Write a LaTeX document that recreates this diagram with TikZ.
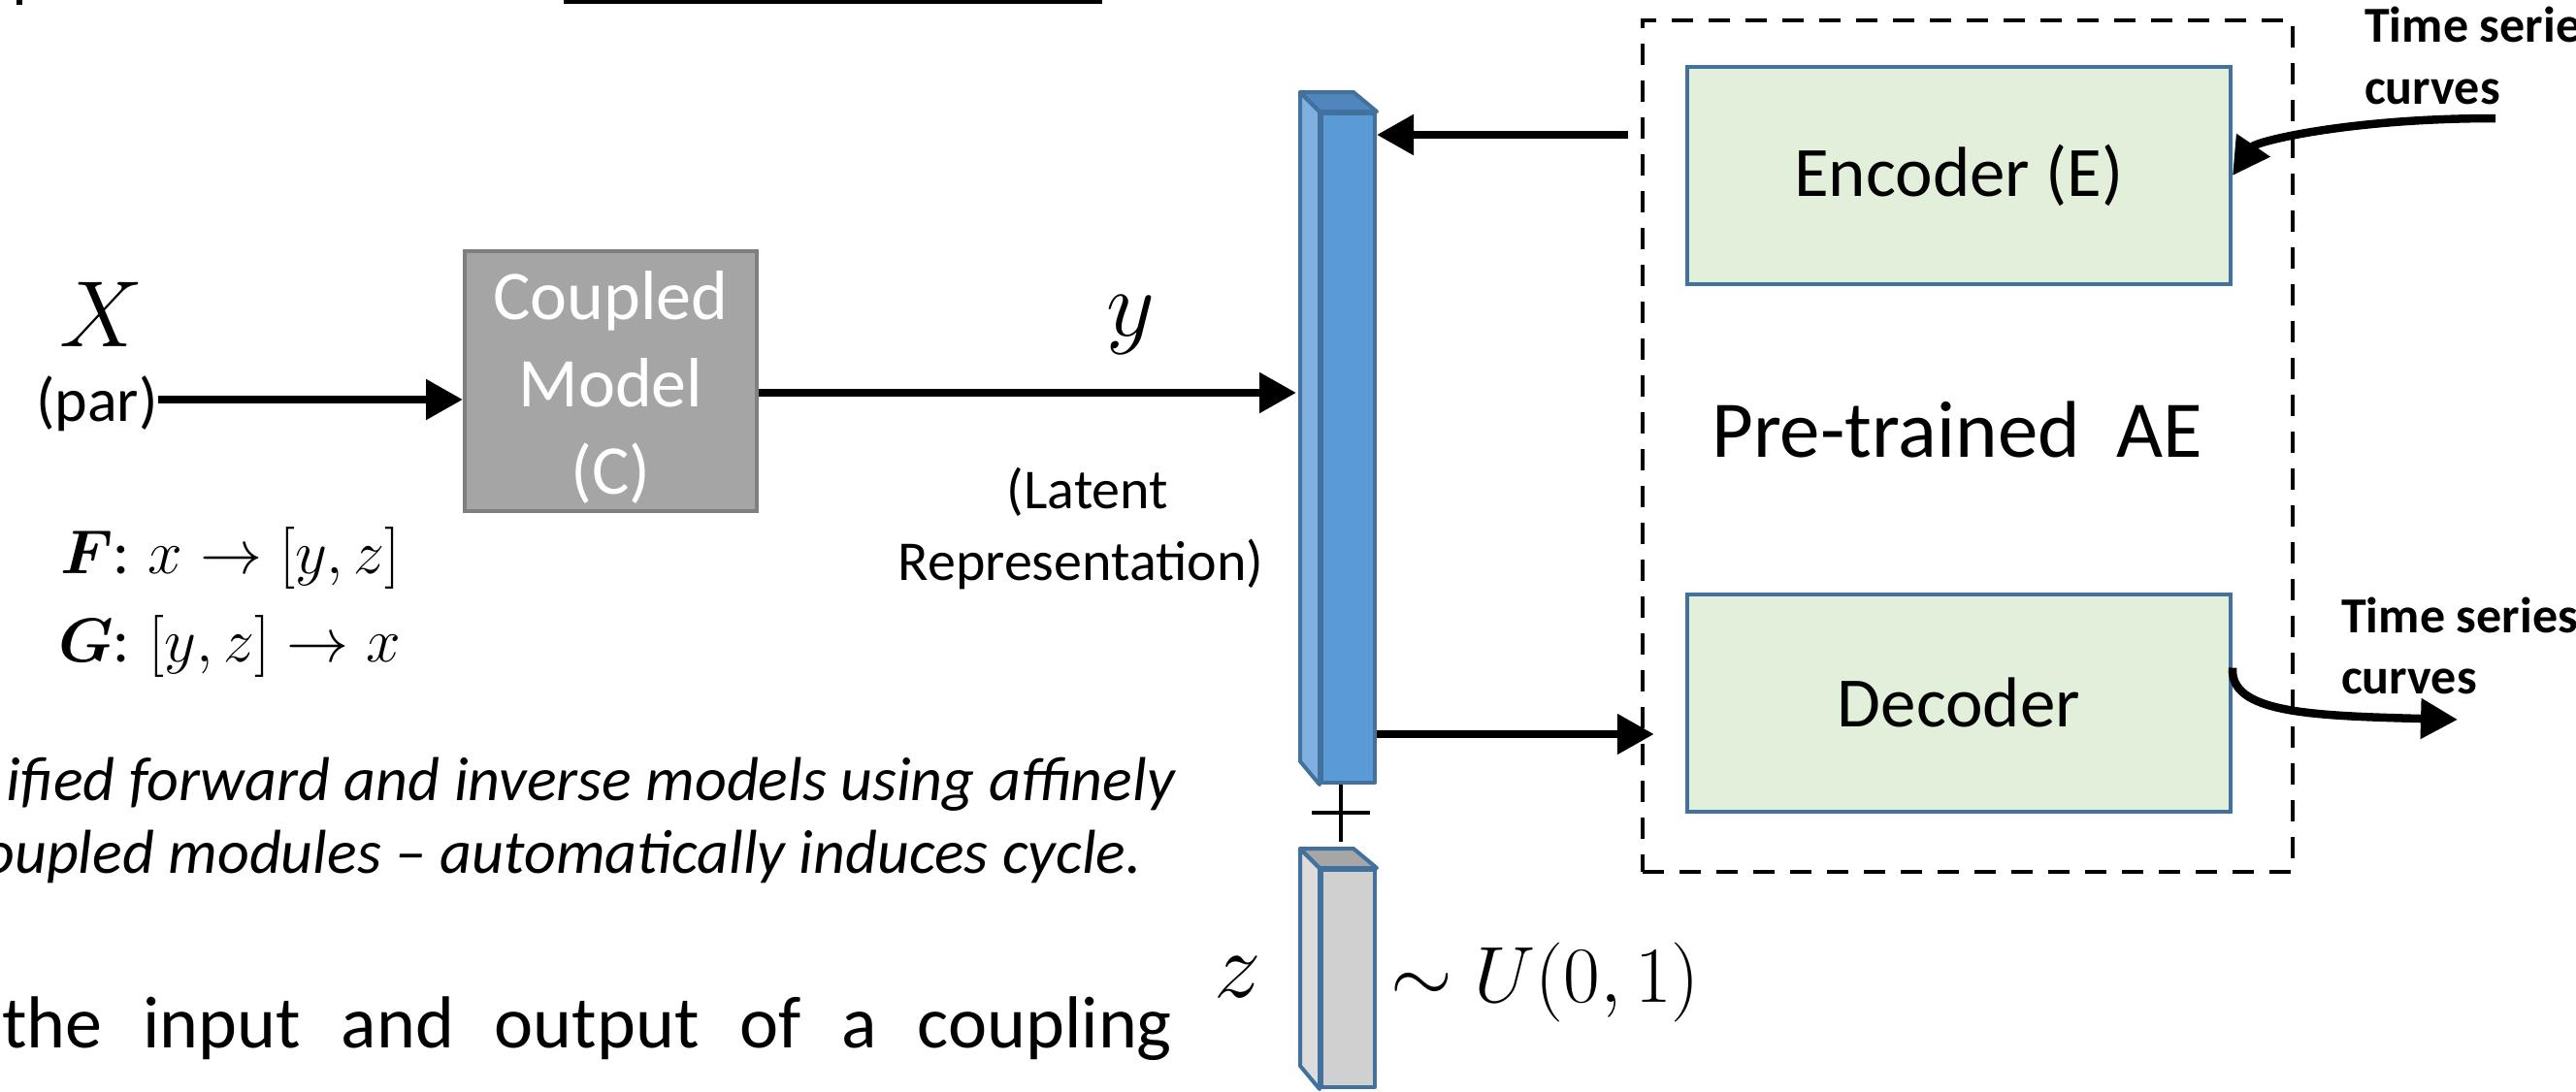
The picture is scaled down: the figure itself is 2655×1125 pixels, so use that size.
\RequirePackage{fix-cm}
\documentclass[tikz,border=0pt]{standalone}
\usepackage[no-math]{fontspec}
\setmainfont{Carlito}
\usepackage{bm}
\usetikzlibrary{arrows.meta}
\definecolor{bblue}{HTML}{41719C}
\definecolor{barfront}{HTML}{5B9BD5}
\definecolor{barside}{HTML}{7FB0E0}
\definecolor{bartop}{HTML}{4F86BD}
\definecolor{gfront}{HTML}{D0D0D0}
\definecolor{gside}{HTML}{DCDCDC}
\definecolor{gtop}{HTML}{A6A6A6}
\definecolor{encfill}{HTML}{E2EFDA}
\definecolor{cmfill}{HTML}{A5A5A5}
\definecolor{cmdraw}{HTML}{7F7F7F}
\tikzset{
  arr/.style={line width=8.5pt,-{Triangle[length=38pt,width=40pt]}},
  cbox/.style={draw=cmdraw,fill=cmfill,line width=4pt,minimum width=301pt,minimum height=268pt,inner sep=0},
  cmtext/.style={text=white,align=center,inner sep=0,font=\fontsize{72}{90}\selectfont},
  aebox/.style={draw=bblue,fill=encfill,line width=4pt,minimum width=560pt,minimum height=224pt,inner sep=0,font=\fontsize{73}{86}\selectfont},
  dashbox/.style={draw,line width=4.5pt,dash pattern=on 22pt off 16pt,minimum width=670pt,minimum height=878pt,inner sep=0},
  lbl/.style={inner sep=0,font=\fontsize{58}{74}\selectfont},
  mlbl/.style={inner sep=0,font=\fontsize{97}{110}\selectfont},
  formula/.style={inner sep=0,anchor=base west,font=\fontsize{64}{72}\selectfont},
  captxt/.style={inner sep=0,anchor=base east,font=\fontsize{64}{75}\selectfont\itshape},
  tslbl/.style={inner sep=0,anchor=base west,font=\fontsize{52}{64}\selectfont\bfseries},
  barface/.style={draw=bblue,line width=4pt,line join=round},
  plusline/.style={line width=4pt},
}
\begin{document}
\begin{tikzpicture}[x=1pt,y=-1pt]
\useasboundingbox (0,0) rectangle (2655,1125);
% remnants at top
\fill (581,0) rectangle (1136,4);
\fill (17,0) rectangle (23,5);

% left part
\node[mlbl] (Xl) at (105,324) {$X$};
\node[lbl,anchor=base,font=\fontsize{64}{74}\selectfont] (par) at (100,434) {(par)};
\node[cbox] (cm) at (629.5,393) {};
\node[cmtext] (cmt) at ([yshift=-6pt]cm.center) {Coupled\\Model\\(C)};
\node[mlbl] (yl) at (1165,335) {$y$};
\node[lbl,anchor=base] (lat1) at (1121,524) {(Latent};
\node[lbl,anchor=base] (lat2) at (1114,598) {Representation)};
\node[formula] (F) at (62,591) {$\bm{F}$: $x\rightarrow[y,z]$};
\node[formula] (G) at (60,682) {$\bm{G}$: $[y,z]\rightarrow x$};
\node[captxt] (cap1) at (1211,825) {ified forward and inverse models using affinely};
\node[captxt] (cap2) at (1177,900) {oupled modules – automatically induces cycle.};
\node[inner sep=0,anchor=base west,font=\fontsize{76}{84}\selectfont] (body) at (2,1080)
  {\hbox to 1206pt{the\hfill input\hfill and\hfill output\hfill of\hfill a\hfill coupling}};

% latent bar (blue)
\node[barface,fill=barfront,minimum width=55pt,minimum height=690pt,inner sep=0] (bar) at (1389.5,462) {};
\filldraw[barface,fill=barside] (bar.north west) -- ++(-20,-20) -- ++(0,690) -- (bar.south west) -- cycle;
\filldraw[barface,fill=bartop] (bar.north west) -- ++(-20,-20) -- ++(55,0) -- (bar.north east) -- cycle;

% plus sign
\coordinate (plus) at (1382,838);
\draw[plusline] (plus |- bar.south) -- (1382,868);
\draw[plusline] ([xshift=-30pt]plus) -- ([xshift=30pt]plus);

% noise bar (gray)
\node[barface,fill=gfront,minimum width=55pt,minimum height=224pt,inner sep=0] (gbar) at (1389.5,1009) {};
\filldraw[barface,fill=gside] (gbar.north west) -- ++(-20,-20) -- ++(0,224) -- (gbar.south west) -- cycle;
\filldraw[barface,fill=gtop] (gbar.north west) -- ++(-20,-20) -- ++(55,0) -- (gbar.north east) -- cycle;
\node[mlbl] (zl) at (1276,1007.5) {$z$};
\node[inner sep=0,font=\fontsize{82}{95}\selectfont] (unif) at (1592.5,1013) {$\sim U(0,1)$};

% pre-trained AE
\node[dashbox] (ae) at (2028,460) {};
\node[aebox] (enc) at (2019,181) {Encoder (E)};
\node[aebox] (dec) at (2019,724.5) {Decoder};
\node[inner sep=0,anchor=base,font=\fontsize{83}{96}\selectfont] (aelbl) at (2017,471) {Pre-trained\ \ AE};

% time series labels
\node[tslbl] (ts1a) at (2437,43) {Time serie};
\node[tslbl] (ts1b) at (2437,107) {curves};
\node[tslbl] (ts2a) at (2413,652) {Time series};
\node[tslbl] (ts2b) at (2413,715) {curves};
\coordinate (tsin) at (2572,122);
\coordinate (tsout) at (2533,742);

% connectors
\draw[arr] (par.east |- 0,412) -- (cm.west |- 0,412);
\draw[arr] (cm.east |- 0,405) -- ([xshift=-24pt]bar.west |- 0,405);
\draw[arr] ([xshift=-13pt]ae.west |- 0,139) -- (bar.east |- 0,139);
\draw[arr] (bar.east |- 0,757) -- ([xshift=14pt]ae.west |- 0,757);
\draw[arr] (tsin) .. controls (2420,122) and (2325,146) .. (enc.east);
\draw[arr] ([yshift=36pt]dec.east) .. controls (2298,735) and (2380,738) .. (tsout);
\end{tikzpicture}
\end{document}
